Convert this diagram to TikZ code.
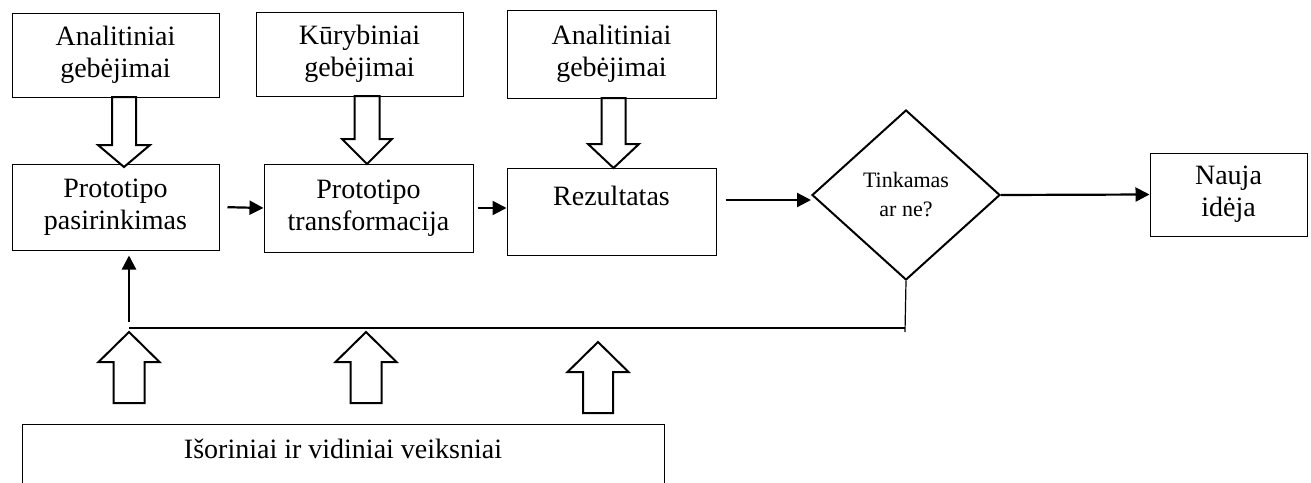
\documentclass[tikz,border=0pt]{standalone}
\usepackage{fontspec}
\setmainfont{Liberation Serif}
\usepackage{tikz}
\usetikzlibrary{arrows.meta}
\usetikzlibrary{shapes.geometric}

\tikzset{
  box/.style={draw, line width=0.5pt, inner sep=0pt, align=center,
    minimum width=103.5pt, minimum height=43pt, font=\fontsize{14}{16}\selectfont},
  decision/.style={diamond, draw, line width=1pt, inner sep=0pt, align=center,
    minimum width=94pt, minimum height=85pt, font=\fontsize{11}{14.5}\selectfont},
  link/.style={line width=1.1pt, -{Triangle[length=7pt,width=7pt]}},
  loopline/.style={line width=0.6pt},
  fat/.style={line width=1pt, fill=white},
}
% hollow arrow: x, shaft half, head half, y tail, y base, y tip
\newcommand{\fatarrow}[6]{%
  \draw[fat] (#1-#2,#4) -- (#1-#2,#5) -- (#1-#3,#5) -- (#1,#6)
    -- (#1+#3,#5) -- (#1+#2,#5) -- (#1+#2,#4) -- cycle;}

\begin{document}
\begin{tikzpicture}[x=0.5pt,y=-0.5pt]
\clip (0,0) rectangle (1311,482);

% abilities
\node[box, minimum height=42pt] (ana1) at (115.5,55) {Analitiniai\\gebėjimai};
\node[box, minimum height=42pt] (kur) at (359.5,54) {Kūrybiniai\\gebėjimai};
\node[box, minimum width=104.5pt, minimum height=44pt] (ana2) at (611.5,54) {Analitiniai\\gebėjimai};

% process
\node[box] (pas) at (115.5,207) {Prototipo\\pasirinkimas};
\node[box, minimum width=104.5pt, minimum height=44pt] (tra) at (368.5,208) {Prototipo\\transformacija};
\node[box, minimum width=104.5pt, minimum height=43.5pt] (rez) at (611.5,211.5) {Rezultatas\\\mbox{}};
\node[decision] (tin) at (906,195) {Tinkamas\\ar ne?};
\node[box, minimum width=78.5pt, minimum height=41.5pt] (ide) at (1228.5,194.5) {Nauja\\idėja};

% factors
\node[box, minimum width=321pt, minimum height=41pt] (vei) at (343,465) {Išoriniai ir vidiniai veiksniai\\\mbox{}};

\draw[link, shorten <=4pt] (pas.east) -- (tra.west);
\draw[link, shorten <=2pt] (tra.east) -- (tra.east -| rez.west);
\draw[link, shorten <=4.5pt] (rez.east |- 0,200) -- (tin.west |- 0,200);
\draw[link] (tin.east) -- (ide.west);

% back to the choice
\coordinate (fbr) at (905,328);
\coordinate (fbl) at (129,328);
\coordinate (up) at (129,322);
\draw[loopline] (tin.south) -- (905,332);
\draw[loopline] (fbr) -- (fbl);
\draw[link, shorten >=2.5pt] (up) -- (up |- pas.south);

% hollow arrows
\fatarrow{124}{12}{26}{97}{145}{167}
\fatarrow{367}{12.5}{25}{96}{139}{164}
\fatarrow{613.5}{12}{25.5}{98}{144}{168}
\fatarrow{129}{15.5}{30.5}{403}{362}{332}
\fatarrow{366}{15.5}{30.5}{403}{362}{332}
\fatarrow{598}{15}{30.5}{413}{372}{342}
\end{tikzpicture}
\end{document}
